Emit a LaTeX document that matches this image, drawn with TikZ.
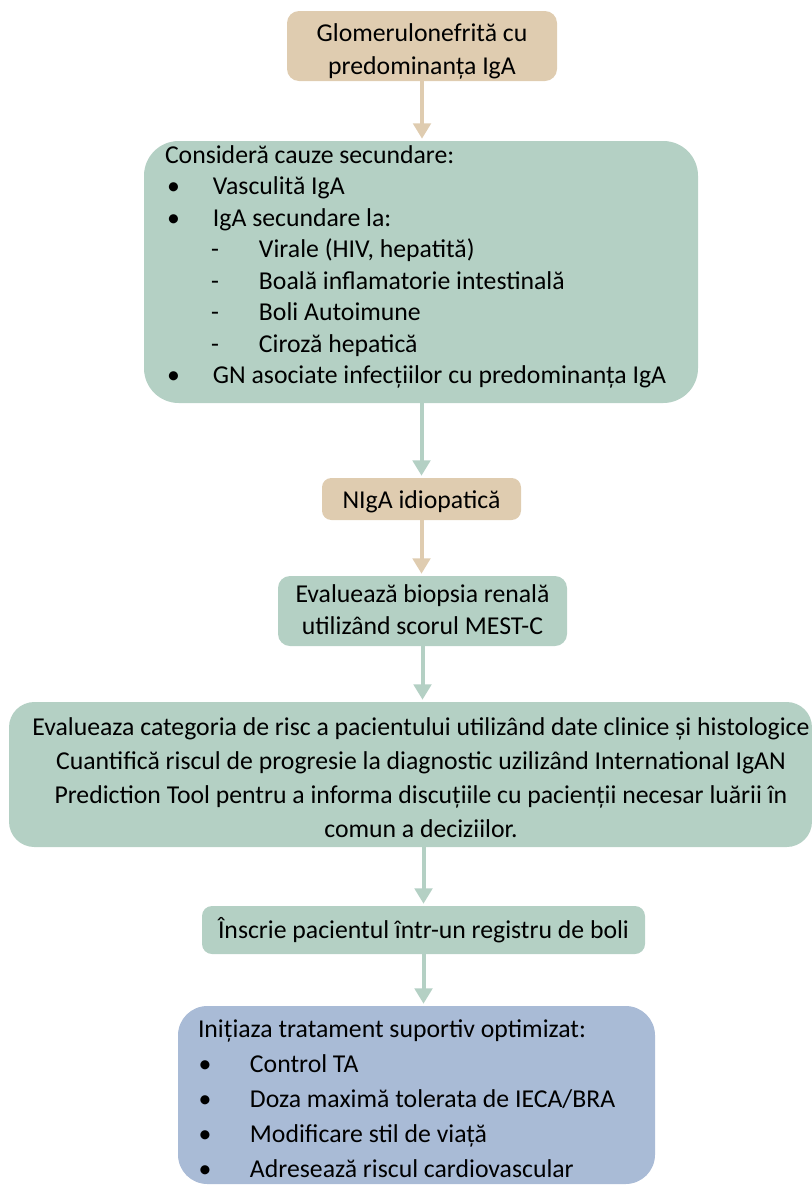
\documentclass[tikz,border=0pt]{standalone}
\usepackage{fontspec}
\setmainfont{Carlito}
\usetikzlibrary{arrows.meta}

\definecolor{tanfill}{HTML}{DFCCB0}
\definecolor{greenfill}{HTML}{B4D0C4}
\definecolor{bluefill}{HTML}{A9BBD6}

% list helpers: bullet and dash items
\newcommand{\bulA}{\makebox[36pt][l]{\hspace{1.5pt}\textbullet}}
\newcommand{\dashA}{\makebox[70.5pt][l]{\hspace{34.5pt}-}}
\newcommand{\bulB}{\makebox[39pt][l]{\hspace{0.5pt}\textbullet}}
% text block: width, alignment, space above, space below, lines
\newcommand{\btext}[5]{\parbox{#1}{#2\vspace*{#3}#5\par\vspace*{#4}}}

\begin{document}
\begin{tikzpicture}[x=0.75pt,y=-0.75pt,
  box/.style={inner xsep=0pt, inner ysep=0pt, text=black,
              font=\fontsize{19.3pt}{24.5pt}\selectfont},
  tanbox/.style={box, fill=tanfill},
  greenbox/.style={box, fill=greenfill},
  bluebox/.style={box, fill=bluefill},
  arr/.style={line width=3pt, -{Triangle[width=13pt,length=11.5pt]}, shorten >=1.5pt},
  tanarr/.style={arr, draw=tanfill},
  greenarr/.style={arr, draw=greenfill}]
\useasboundingbox (0,0) rectangle (812,1186);

% boxes
\node[tanbox, rounded corners=9pt, minimum width=202.5pt, minimum height=52.5pt,
      font=\fontsize{19.3pt}{24.75pt}\selectfont]
  (b1) at (422,46) {\btext{200pt}{\centering}{7.5pt}{0pt}{Glomerulonefrită cu\\predominanța IgA}};

\node[greenbox, rounded corners=26pt, minimum width=415.5pt, minimum height=196.5pt,
      font=\fontsize{19.3pt}{23.6pt}\selectfont]
  (b2) at (421,272) {\btext{384pt}{\raggedright}{0pt}{7.5pt}{Consideră cauze secundare:\\
    \bulA Vasculită IgA\\
    \bulA IgA secundare la:\\
    \dashA Virale (HIV, hepatită)\\
    \dashA Boală inflamatorie intestinală\\
    \dashA Boli Autoimune\\
    \dashA Ciroză hepatică\\
    \bulA GN asociate infecțiilor cu predominanța IgA}};

\node[tanbox, rounded corners=7pt, minimum width=149.25pt, minimum height=31.5pt]
  (b3) at (421.5,499) {\btext{145pt}{\centering}{4pt}{0pt}{NIgA idiopatică}};

\node[greenbox, rounded corners=9pt, minimum width=216.75pt, minimum height=52.5pt,
      font=\fontsize{19.3pt}{24pt}\selectfont]
  (b4) at (422.5,611) {\btext{214pt}{\centering}{0pt}{1.5pt}{Evaluează biopsia renală\\utilizând scorul MEST-C}};

\node[greenbox, rounded corners=19pt, minimum width=602.25pt, minimum height=108.75pt,
      font=\fontsize{19.3pt}{25.5pt}\selectfont]
  (b5) at (410.5,774.5) {\hspace*{15.75pt}\btext{585pt}{\centering}{4pt}{0pt}{%
    Evalueaza categoria de risc a pacientului utilizând date clinice și histologice\\
    Cuantifică riscul de progresie la diagnostic uzilizând International IgAN\\
    Prediction Tool pentru a informa discuțiile cu pacienții necesar luării în\\
    comun a deciziilor.}};

\node[greenbox, rounded corners=7.5pt, minimum width=332.25pt, minimum height=36pt]
  (b6) at (423.5,930) {Înscrie pacientul într-un registru de boli};

\node[bluebox, rounded corners=22pt, minimum width=357.75pt, minimum height=133.5pt,
      font=\fontsize{19.3pt}{26.25pt}\selectfont]
  (b7) at (416.5,1095) {\btext{327.75pt}{\raggedright}{6pt}{0pt}{Inițiaza tratament suportiv optimizat:\\
    \bulB Control TA\\
    \bulB Doza maximă tolerata de IECA/BRA\\
    \bulB Modificare stil de viață\\
    \bulB Adresează riscul cardiovascular}};

% connectors
\draw[tanarr]   (b1.south) -- (b1.south |- b2.north);
\draw[greenarr] (b2.south -| b3.north) -- (b3.north);
\draw[tanarr]   (b3.south) -- (b3.south |- b4.north);
\draw[greenarr] (b4.south) -- (b4.south |- b5.north);
\draw[greenarr] (b6.north |- b5.south) -- (b6.north);
\draw[greenarr] (b6.south) -- (b6.south |- b7.north);
\end{tikzpicture}
\end{document}
